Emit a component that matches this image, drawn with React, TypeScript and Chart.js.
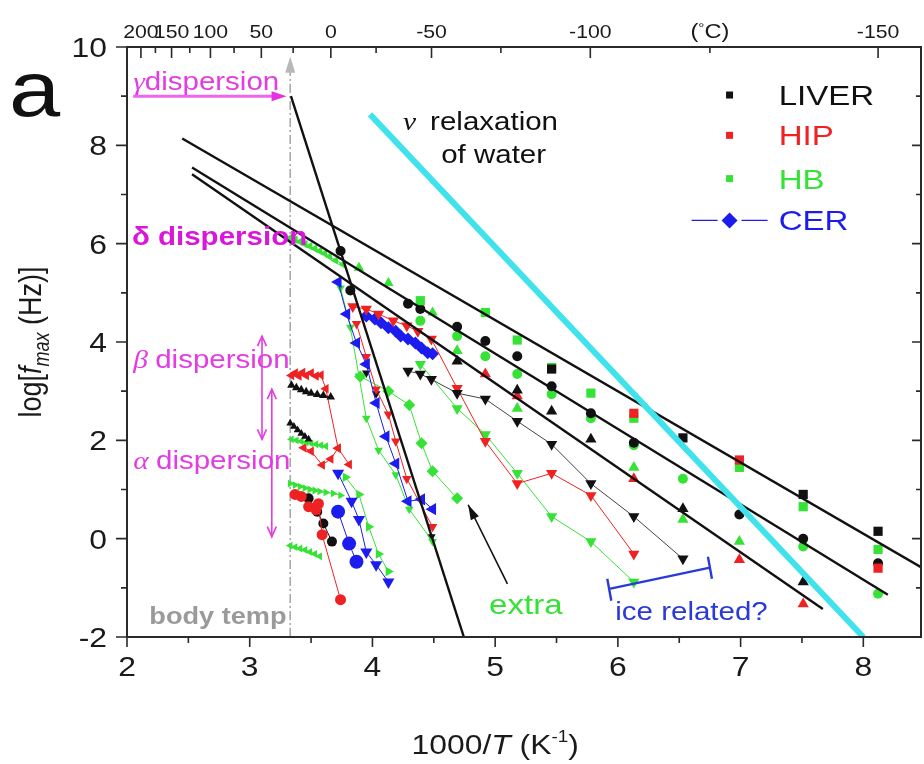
import React, { useEffect, useRef } from 'react';
import { Chart, registerables } from 'chart.js';

Chart.register(...registerables);

type P = [number, number];

// ---- axes ----
const X_MIN = 2;
const X_MAX = 8.47;
const Y_MIN = -2;
const Y_MAX = 10;
const X_TICKS = [2, 3, 4, 5, 6, 7, 8];
const X_MINOR = [2.5, 3.5, 4.5, 5.5, 6.5, 7.5];
const Y_TICKS = [-2, 0, 2, 4, 6, 8, 10];
const Y_MINOR = [-1, 1, 3, 5, 7, 9];
// secondary (top) axis in degrees Celsius
const TOP_MAJOR_C = [200, 150, 100, 50, 0, -50, -100, -150];
const TOP_MINOR_C = [175, 125, 75, 25, -25, -75, -125];
const TOP_LABEL_C = [200, 150, 100, 50, 0, -50, -100, -125, -150];
const TOP_LABELS = ['200', '150', '100', '50', '0', '-50', '-100', '(°C)', '-150'];

// ---- fitted Arrhenius lines ----
const FIT_A: P[] = [[2.45, 8.14], [8.47, -0.58]];
const FIT_B: P[] = [[2.53, 7.55], [8.2, -1.14]];
const FIT_C: P[] = [[2.53, 7.41], [7.67, -1.43]];
const FIT_GAMMA: P[] = [[3.336, 9.0], [4.745, -2.0]];
const WATER_NU: P[] = [[3.98, 8.63], [8.0, -2.0]];

// ---- LIVER ----
const LIVER_SQUARE: P[] = [[5.46, 3.45], [6.53, 2.05], [7.51, 0.9], [8.12, 0.15]];
const LIVER_CIRCLE: P[] = [[3.74, 5.85], [3.82, 5.05], [4.29, 4.78], [4.39, 4.67], [4.69, 4.31], [4.92, 4.02], [5.18, 3.71], [5.46, 3.1], [5.78, 2.55], [6.13, 1.95], [6.99, 0.49], [7.51, 0.0], [8.12, -0.5]];
const LIVER_UP: P[] = [[4.69, 3.61], [5.18, 3.02], [5.46, 2.59], [5.78, 2.02], [6.53, 0.61], [7.51, -0.88]];
const LIVER_DOWN: P[] = [[4.29, 3.41], [4.39, 3.35], [4.48, 3.24], [4.69, 2.96], [4.92, 2.84], [5.18, 2.39], [5.46, 1.92], [5.78, 1.12], [6.13, 0.45], [6.53, -0.41]];
const LIVER_BETA: P[] = [[3.34, 3.12], [3.38, 3.07], [3.42, 3.03], [3.46, 2.99], [3.5, 2.96], [3.55, 2.93], [3.6, 2.91], [3.66, 2.88]];
const LIVER_ALPHA: P[] = [[3.33, 2.35], [3.36, 2.28], [3.39, 2.21], [3.42, 2.14], [3.45, 2.08], [3.48, 2.02]];
const LIVER_ALPHA_LOW: P[] = [[3.48, 0.82], [3.55, 0.55], [3.6, 0.31], [3.67, -0.06]];
const LIVER_STEEP: P[] = [[3.95, 3.37], [4.03, 2.95], [4.48, 0.04]];

// ---- HIP ----
const HIP_SQUARE: P[] = [[6.13, 2.55], [6.99, 1.6], [8.12, -0.6]];
const HIP_UP: P[] = [[4.92, 3.35], [5.18, 2.9], [6.13, 1.22], [6.99, -0.43], [7.51, -1.33]];
const HIP_DOWN: P[] = [[3.84, 4.72], [3.95, 4.67], [4.05, 4.57], [4.17, 4.43], [4.28, 4.33], [4.37, 4.22], [4.48, 4.06], [4.69, 3.06], [4.92, 1.98], [5.18, 1.12], [5.46, 1.33], [5.78, 0.88], [6.13, -0.31]];
const HIP_BETA: P[] = [[3.34, 3.32], [3.37, 3.37], [3.4, 3.31], [3.43, 3.38], [3.46, 3.32], [3.5, 3.37], [3.54, 3.31], [3.58, 3.33], [3.62, 3.05], [3.72, 1.84]];
const HIP_ALPHA: P[] = [[3.44, 1.85], [3.5, 1.78], [3.59, 1.5], [3.66, 1.62], [3.72, 1.84], [3.81, 1.51]];
const HIP_CIRCLE: P[] = [[3.37, 0.9], [3.42, 0.86], [3.48, 0.65], [3.54, 0.59], [3.56, 0.71], [3.59, 0.08], [3.74, -1.24]];
const HIP_STEEP: P[] = [[3.87, 4.37], [3.95, 3.7], [4.03, 3.04], [4.13, 2.53], [4.19, 1.98], [4.28, 1.22], [4.49, 0.24]];

// ---- HB ----
const HB_SQUARE: P[] = [[4.39, 4.84], [4.92, 4.6], [5.18, 4.04], [5.46, 3.48], [5.78, 2.96], [6.13, 2.45], [6.99, 1.45], [7.51, 0.65], [8.12, -0.22]];
const HB_CIRCLE: P[] = [[4.39, 4.43], [4.69, 4.12], [4.92, 3.71], [5.18, 3.35], [5.46, 2.94], [5.78, 2.45], [6.13, 1.9], [6.53, 1.22], [7.51, -0.16], [8.12, -1.12]];
const HB_UP: P[] = [[4.69, 3.82], [5.18, 2.65], [6.13, 1.45], [6.53, 0.39], [6.99, -0.06]];
const HB_DOWN: P[] = [[4.39, 3.55], [4.69, 2.65], [4.92, 2.12], [5.18, 1.33], [5.46, 0.45], [5.78, -0.06], [6.13, -0.88]];
const HB_DELTA: P[] = [[3.33, 6.12], [3.37, 6.08], [3.41, 6.04], [3.45, 5.99], [3.49, 5.95], [3.53, 5.9], [3.57, 5.85], [3.61, 5.8], [3.65, 5.74], [3.7, 5.66], [3.76, 5.58]];
const HB_DELTA_HI: P[] = [[3.89, 5.51], [4.13, 5.2], [4.49, 4.6]];
const HB_EXTRA: P[] = [[3.9, 3.3], [4.13, 3.0], [4.3, 2.72], [4.4, 1.94], [4.49, 1.37], [4.69, 0.82]];
const HB_STEEP: P[] = [[3.74, 5.1], [3.82, 4.3], [3.89, 3.31], [3.95, 2.45], [4.05, 1.8], [4.19, 1.3], [4.3, 0.6], [4.49, -0.06]];
const HB_ALPHA1: P[] = [[3.34, 2.02], [3.38, 2.0], [3.42, 1.98], [3.46, 1.96], [3.5, 1.94], [3.54, 1.92], [3.58, 1.9], [3.62, 1.88]];
const HB_ALPHA2: P[] = [[3.33, 1.12], [3.37, 1.09], [3.41, 1.06], [3.45, 1.03], [3.49, 1.0], [3.53, 0.98], [3.57, 0.96], [3.62, 0.94], [3.68, 0.92], [3.74, 0.88]];
const HB_ALPHA3: P[] = [[3.33, -0.14], [3.37, -0.17], [3.41, -0.2], [3.45, -0.23], [3.49, -0.27], [3.53, -0.31], [3.57, -0.36]];
const HB_ALPHA_R: P[] = [[3.78, 1.25], [3.89, 0.9], [3.97, 0.24], [4.05, -0.31], [4.13, -0.67]];

// ---- CER ----
const CER_DIAMOND: P[] = [[3.95, 4.53], [4.02, 4.47], [4.07, 4.39], [4.13, 4.29], [4.19, 4.22], [4.23, 4.12], [4.29, 4.06], [4.35, 3.98], [4.4, 3.88], [4.45, 3.78], [4.49, 3.76]];
const CER_LEFT: P[] = [[3.72, 5.22], [3.79, 4.57], [3.87, 3.98], [3.95, 3.55], [4.03, 2.76], [4.11, 2.08], [4.19, 1.53], [4.29, 0.76], [4.4, 0.8], [4.49, 0.6]];
const CER_CIRCLE: P[] = [[3.72, 0.55], [3.81, -0.1], [3.87, -0.47]];
const CER_DOWN: P[] = [[3.72, 1.33], [3.83, 0.76], [3.89, 0.39], [3.95, -0.27], [4.03, -0.53], [4.13, -0.88]];

// ---- annotation anchors (data units) ----
const BODY_TEMP_X = 3.33;

const SANS = '"Liberation Sans", Arial, Helvetica, sans-serif';
const SERIF = '"Liberation Serif", "Times New Roman", serif';
const SX = 1.18; // horizontal text stretch

const BLACK = '#111111';
const RED = '#ee2222';
const GREEN = '#36e236';
const BLUE = '#1c1cee';
const MAGENTA = '#e23ce2';
const CYAN = '#40e2ec';
const GRAY = '#a9a9a9';
const AXIS = '#2a2a2a';

const toPts = (d: P[]) => d.map(([x, y]) => ({ x, y }));

function markers(label: string, data: P[], color: string, style: string, radius: number, rotation = 0, line?: string) {
  return {
    label,
    data: toPts(data),
    showLine: !!line,
    borderColor: line || color,
    borderWidth: 1,
    pointStyle: style,
    pointRadius: radius,
    pointHoverRadius: radius,
    pointRotation: rotation,
    pointBackgroundColor: color,
    pointBorderColor: color,
    pointBorderWidth: 0,
  };
}

function straight(label: string, data: P[], color: string, width: number) {
  return {
    label,
    data: toPts(data),
    showLine: true,
    borderColor: color,
    borderWidth: width,
    pointRadius: 0,
    pointHoverRadius: 0,
  };
}

type Run = { t: string; font: string; dy?: number };

function drawRuns(ctx: CanvasRenderingContext2D, runs: Run[], x: number, y: number, align: 'left' | 'center' | 'right', color: string, rotate = false) {
  ctx.save();
  ctx.translate(x, y);
  if (rotate) {
    ctx.rotate(-Math.PI / 2);
    ctx.scale(1, SX);
  } else {
    ctx.scale(SX, 1);
  }
  ctx.textAlign = 'left';
  ctx.textBaseline = 'alphabetic';
  ctx.fillStyle = color;
  let total = 0;
  for (const r of runs) {
    ctx.font = r.font;
    total += ctx.measureText(r.t).width;
  }
  let cx = align === 'left' ? 0 : align === 'center' ? -total / 2 : -total;
  for (const r of runs) {
    ctx.font = r.font;
    ctx.fillText(r.t, cx, r.dy || 0);
    cx += ctx.measureText(r.t).width;
  }
  ctx.restore();
}

function arrowHead(ctx: CanvasRenderingContext2D, x1: number, y1: number, x2: number, y2: number, len: number, half: number, filled: boolean, color: string) {
  const a = Math.atan2(y2 - y1, x2 - x1);
  const bx = x2 - len * Math.cos(a);
  const by = y2 - len * Math.sin(a);
  const ox = -Math.sin(a) * half;
  const oy = Math.cos(a) * half;
  ctx.beginPath();
  ctx.moveTo(bx + ox, by + oy);
  ctx.lineTo(x2, y2);
  ctx.lineTo(bx - ox, by - oy);
  if (filled) {
    ctx.closePath();
    ctx.fillStyle = color;
    ctx.fill();
  } else {
    ctx.strokeStyle = color;
    ctx.stroke();
  }
}

const decorations = {
  id: 'decorations',
  beforeDatasetsDraw(chart: any) {
    const { ctx, scales } = chart;
    const sx = scales.x;
    const sy = scales.y;
    const bx = sx.getPixelForValue(BODY_TEMP_X);
    const tipY = sy.getPixelForValue(9.8);
    ctx.save();
    ctx.strokeStyle = GRAY;
    ctx.lineWidth = 1.6;
    ctx.setLineDash([9, 3, 2, 3]);
    ctx.beginPath();
    ctx.moveTo(bx, sy.getPixelForValue(Y_MIN));
    ctx.lineTo(bx, tipY + 14);
    ctx.stroke();
    ctx.setLineDash([]);
    arrowHead(ctx, bx, tipY + 30, bx, tipY, 16, 5, true, '#b8b8b8');
    ctx.restore();
  },
  afterDatasetsDraw(chart: any) {
    const { ctx, scales, chartArea } = chart;
    const sx = scales.x;
    const sy = scales.y;
    const X = (v: number) => sx.getPixelForValue(v);
    const Y = (v: number) => sy.getPixelForValue(v);
    const { left, right, top, bottom } = chartArea;

    ctx.save();
    // frame
    ctx.strokeStyle = AXIS;
    ctx.lineWidth = 2;
    ctx.strokeRect(left, top, right - left, bottom - top);

    // tick marks
    ctx.lineWidth = 1.6;
    ctx.beginPath();
    for (const v of Y_TICKS) {
      const p = Y(v);
      ctx.moveTo(left - 11, p); ctx.lineTo(left, p);
      ctx.moveTo(right - 9, p); ctx.lineTo(right, p);
    }
    for (const v of Y_MINOR) {
      const p = Y(v);
      ctx.moveTo(left - 6, p); ctx.lineTo(left, p);
      ctx.moveTo(right - 5, p); ctx.lineTo(right, p);
    }
    for (const v of X_TICKS) {
      const p = X(v);
      ctx.moveTo(p, bottom); ctx.lineTo(p, bottom + 10);
    }
    for (const v of X_MINOR) {
      const p = X(v);
      ctx.moveTo(p, bottom); ctx.lineTo(p, bottom + 6);
    }
    for (const c of TOP_MAJOR_C) {
      const p = X(1000 / (c + 273.15));
      ctx.moveTo(p, top); ctx.lineTo(p, top + 11);
    }
    for (const c of TOP_MINOR_C) {
      const p = X(1000 / (c + 273.15));
      ctx.moveTo(p, top); ctx.lineTo(p, top + 6);
    }
    ctx.stroke();

    // tick labels
    const tickFont = `27px ${SANS}`;
    for (const v of X_TICKS) {
      drawRuns(ctx, [{ t: String(v), font: tickFont }], X(v), bottom + 39, 'center', '#1a1a1a');
    }
    for (const v of Y_TICKS) {
      drawRuns(ctx, [{ t: String(v), font: tickFont }], left - 20, Y(v) + 10, 'right', '#1a1a1a');
    }
    TOP_LABEL_C.forEach((c, i) => {
      const t = TOP_LABELS[i];
      const px = X(1000 / (c + 273.15));
      if (t === '(°C)') {
        drawRuns(ctx, [
          { t: '(', font: `20px ${SANS}` },
          { t: '°', font: `13px ${SANS}`, dy: -6 },
          { t: 'C)', font: `20px ${SANS}` },
        ], px, top - 9, 'center', '#1a1a1a');
      } else {
        drawRuns(ctx, [{ t, font: `18px ${SANS}` }], px, top - 9, 'center', '#1a1a1a');
      }
    });

    // axis titles
    drawRuns(ctx, [
      { t: '1000/', font: `27px ${SANS}` },
      { t: 'T', font: `italic 27px ${SANS}` },
      { t: ' (K', font: `27px ${SANS}` },
      { t: '-1', font: `16px ${SANS}`, dy: -12 },
      { t: ')', font: `27px ${SANS}` },
    ], X(5.0), 754, 'center', '#1a1a1a');
    drawRuns(ctx, [
      { t: 'log[', font: `27px ${SANS}` },
      { t: 'f', font: `italic 27px ${SANS}` },
      { t: 'max', font: `italic 18px ${SANS}`, dy: 7 },
      { t: ' (Hz)]', font: `27px ${SANS}` },
    ], 41, (top + bottom) / 2, 'center', '#1a1a1a', true);

    // panel letter
    drawRuns(ctx, [{ t: 'a', font: `78px ${SANS}` }], 9, 116, 'left', '#111');

    // gamma dispersion
    const gy = Y(9.0);
    ctx.strokeStyle = '#ee66ee';
    ctx.lineWidth = 3;
    ctx.beginPath();
    ctx.moveTo(X(2.05), gy);
    ctx.lineTo(X(3.3) - 10, gy);
    ctx.stroke();
    arrowHead(ctx, X(2.05), gy, X(3.3), gy, 15, 5, true, '#e233e2');
    drawRuns(ctx, [
      { t: 'γ', font: `italic 25px ${SERIF}` },
      { t: 'dispersion', font: `25px ${SANS}` },
    ], X(2.05), Y(9.12), 'left', MAGENTA);

    // delta dispersion
    drawRuns(ctx, [{ t: 'δ dispersion', font: `bold 25px ${SANS}` }], X(2.04), Y(5.97), 'left', '#d916d9');

    // beta / alpha dispersion
    drawRuns(ctx, [
      { t: 'β ', font: `italic 25px ${SERIF}` },
      { t: 'dispersion', font: `25px ${SANS}` },
    ], X(2.05), Y(3.47), 'left', MAGENTA);
    drawRuns(ctx, [
      { t: 'α ', font: `italic 25px ${SERIF}` },
      { t: 'dispersion', font: `25px ${SANS}` },
    ], X(2.05), Y(1.41), 'left', MAGENTA);

    ctx.lineWidth = 1.6;
    ctx.strokeStyle = MAGENTA;
    const vArrow = (xv: number, y1: number, y2: number) => {
      const px = X(xv);
      ctx.beginPath();
      ctx.moveTo(px, Y(y1));
      ctx.lineTo(px, Y(y2));
      ctx.stroke();
      arrowHead(ctx, px, Y(y2), px, Y(y1), 10, 4.5, false, MAGENTA);
      arrowHead(ctx, px, Y(y1), px, Y(y2), 10, 4.5, false, MAGENTA);
    };
    vArrow(3.1, 4.12, 2.02);
    vArrow(3.18, 3.04, 0.04);

    // body temperature label
    drawRuns(ctx, [{ t: 'body temp', font: `bold 23px ${SANS}` }], X(3.3), Y(-1.73), 'right', '#9a9a9a');

    // water relaxation
    drawRuns(ctx, [{ t: 'ν', font: `italic 25px ${SERIF}` }], X(4.25), Y(8.31), 'left', '#111');
    drawRuns(ctx, [{ t: 'relaxation', font: `25px ${SANS}` }], X(4.47), Y(8.31), 'left', '#111');
    drawRuns(ctx, [{ t: 'of water', font: `25px ${SANS}` }], X(4.56), Y(7.65), 'left', '#111');

    // extra process
    ctx.strokeStyle = '#111';
    ctx.lineWidth = 1.6;
    ctx.beginPath();
    ctx.moveTo(X(5.1), Y(-0.92));
    ctx.lineTo(X(4.78), Y(0.69));
    ctx.stroke();
    arrowHead(ctx, X(5.1), Y(-0.92), X(4.78), Y(0.69), 15, 4.5, true, '#111');
    drawRuns(ctx, [{ t: 'extra', font: `28px ${SANS}` }], X(5.25), Y(-1.53), 'center', GREEN);

    // ice bracket
    const ix1 = X(5.93), iy1 = Y(-1.02), ix2 = X(6.75), iy2 = Y(-0.59);
    ctx.strokeStyle = '#2a3ad6';
    ctx.lineWidth = 2.4;
    ctx.beginPath();
    ctx.moveTo(ix1, iy1); ctx.lineTo(ix2, iy2);
    ctx.moveTo(ix1 - 2, iy1 - 10); ctx.lineTo(ix1 + 2, iy1 + 12);
    ctx.moveTo(ix2 - 2, iy2 - 11); ctx.lineTo(ix2 + 2, iy2 + 11);
    ctx.stroke();
    drawRuns(ctx, [{ t: 'ice related?', font: `25px ${SANS}` }], X(6.6), Y(-1.66), 'center', '#2a3ad6');

    // legend
    const legX = X(6.91);
    const textX = X(7.31);
    const rows: [string, string, number][] = [['LIVER', '#111', 8.82], ['HIP', RED, 8.0], ['HB', GREEN, 7.12], ['CER', BLUE, 6.27]];
    rows.forEach(([name, color, yv], i) => {
      const base = Y(yv);
      const cy = base - 10;
      if (i < 3) {
        ctx.fillStyle = color;
        ctx.fillRect(legX - 3.5, cy - 3.5, 7, 7);
      } else {
        ctx.strokeStyle = color;
        ctx.lineWidth = 1.2;
        ctx.beginPath();
        ctx.moveTo(legX - 38, cy); ctx.lineTo(legX - 12, cy);
        ctx.moveTo(legX + 12, cy); ctx.lineTo(legX + 38, cy);
        ctx.stroke();
        ctx.fillStyle = color;
        ctx.beginPath();
        ctx.moveTo(legX, cy - 8); ctx.lineTo(legX + 8, cy); ctx.lineTo(legX, cy + 8); ctx.lineTo(legX - 8, cy);
        ctx.closePath();
        ctx.fill();
      }
      drawRuns(ctx, [{ t: name, font: `28px ${SANS}` }], textX, base, 'left', color);
    });
    ctx.restore();
  },
};

export default function App() {
  const ref = useRef<HTMLCanvasElement | null>(null);

  useEffect(() => {
    if (!ref.current) return;
    const datasets: any[] = [
      straight('water', WATER_NU, CYAN, 6),
      straight('fit A', FIT_A, BLACK, 2.4),
      straight('fit B', FIT_B, BLACK, 2.4),
      straight('fit C', FIT_C, BLACK, 2.4),
      straight('fit gamma', FIT_GAMMA, BLACK, 2.4),

      markers('LIVER squares', LIVER_SQUARE, BLACK, 'rect', 6.5),
      markers('HIP squares', HIP_SQUARE, RED, 'rect', 6.5),
      markers('HB squares', HB_SQUARE, GREEN, 'rect', 6.5),
      markers('LIVER circles', LIVER_CIRCLE, BLACK, 'circle', 5),
      markers('HB circles', HB_CIRCLE, GREEN, 'circle', 5),
      markers('LIVER up', LIVER_UP, BLACK, 'triangle', 6.5),
      markers('HIP up', HIP_UP, RED, 'triangle', 6.5),
      markers('HB up', HB_UP, GREEN, 'triangle', 6.5),
      markers('LIVER down', LIVER_DOWN, BLACK, 'triangle', 6.5, 180, '#444'),
      markers('HIP down', HIP_DOWN, RED, 'triangle', 6.5, 180, RED),
      markers('HB down', HB_DOWN, GREEN, 'triangle', 6.5, 180, GREEN),

      markers('CER diamonds', CER_DIAMOND, BLUE, 'rectRot', 6.5, 0, BLUE),
      markers('CER left', CER_LEFT, BLUE, 'triangle', 7, -90, BLUE),
      markers('CER circles', CER_CIRCLE, BLUE, 'circle', 7, 0, BLUE),
      markers('CER down', CER_DOWN, BLUE, 'triangle', 7, 180, BLUE),

      markers('HB extra', HB_EXTRA, GREEN, 'rectRot', 6, 0, GREEN),
      markers('HB steep', HB_STEEP, GREEN, 'triangle', 5, 180, GREEN),
      markers('HB delta', HB_DELTA, GREEN, 'triangle', 5, -90, GREEN),
      markers('HB delta hi', HB_DELTA_HI, GREEN, 'triangle', 6),
      markers('HIP steep', HIP_STEEP, RED, 'triangle', 5.5, 180, RED),
      markers('LIVER steep', LIVER_STEEP, BLACK, 'triangle', 5, 180),

      markers('LIVER beta', LIVER_BETA, BLACK, 'triangle', 5, 0, BLACK),
      markers('HIP beta', HIP_BETA, RED, 'triangle', 5.5, -90, RED),
      markers('LIVER alpha', LIVER_ALPHA, BLACK, 'triangle', 4.5, 0, BLACK),
      markers('HB alpha 1', HB_ALPHA1, GREEN, 'triangle', 4.5, -90, GREEN),
      markers('HIP alpha', HIP_ALPHA, RED, 'triangle', 5.5, -90, RED),
      markers('HB alpha 2', HB_ALPHA2, GREEN, 'triangle', 4.5, 90, GREEN),
      markers('HIP circles', HIP_CIRCLE, RED, 'circle', 5.5, 0, RED),
      markers('LIVER alpha low', LIVER_ALPHA_LOW, BLACK, 'circle', 5, 0, BLACK),
      markers('HB alpha 3', HB_ALPHA3, GREEN, 'triangle', 4.5, -90, GREEN),
      markers('HB alpha right', HB_ALPHA_R, GREEN, 'triangle', 5.5, 90, GREEN),
    ];

    const chart = new Chart(ref.current, {
      type: 'scatter',
      data: { datasets },
      options: {
        responsive: false,
        animation: false,
        devicePixelRatio: 1,
        events: [],
        layout: { padding: { left: 127, right: 2, top: 47, bottom: 127 } },
        plugins: { legend: { display: false }, tooltip: { enabled: false } },
        scales: {
          x: { type: 'linear', min: X_MIN, max: X_MAX, display: false },
          y: { type: 'linear', min: Y_MIN, max: Y_MAX, display: false },
        },
      },
      plugins: [decorations],
    } as any);
    return () => chart.destroy();
  }, []);

  return (
    <div style={{ position: 'absolute', left: 0, top: 0, width: 924, height: 764, overflow: 'hidden', background: '#fff' }}>
      <canvas ref={ref} width={928} height={764} style={{ display: 'block' }} />
    </div>
  );
}
